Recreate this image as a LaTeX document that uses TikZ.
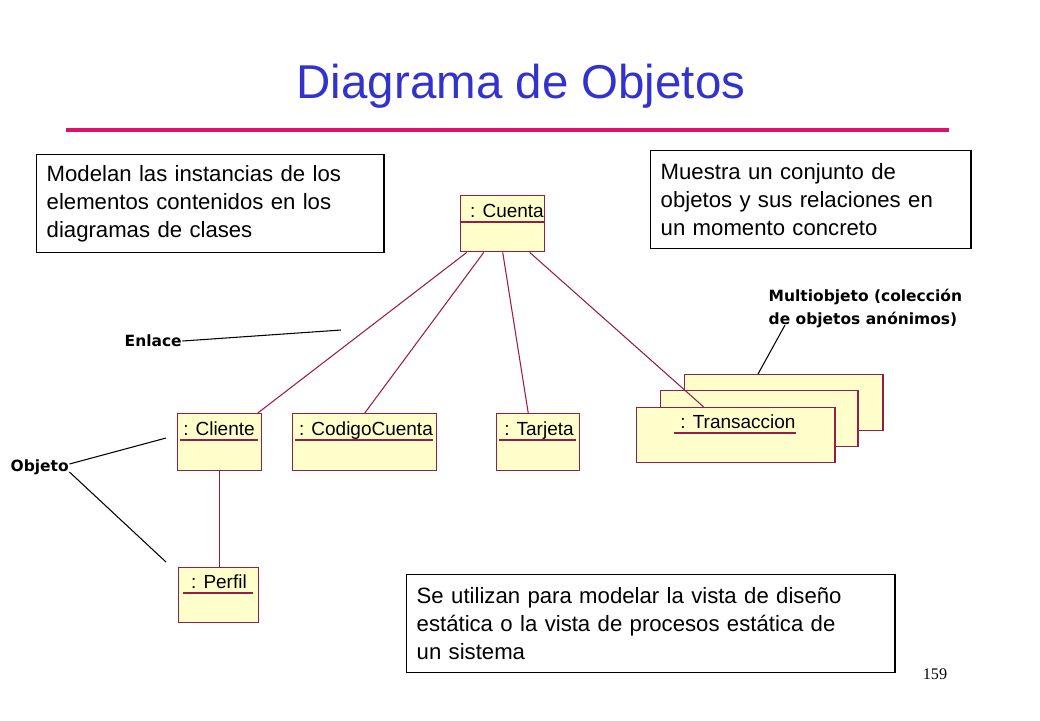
\documentclass[tikz,border=0pt]{standalone}
\usepackage{fontspec}
\setmainfont{Liberation Sans}
\newfontfamily\labfont{DejaVu Sans}
\newfontfamily\numfont{Liberation Serif}
\definecolor{umlline}{RGB}{150,30,70}
\definecolor{umlfill}{RGB}{255,255,204}
\definecolor{titleblue}{RGB}{51,51,204}
\definecolor{rulepink}{RGB}{224,16,106}
\tikzset{
  obj/.style={draw=umlline, fill=umlfill, anchor=north west, inner sep=0pt},
  link/.style={draw=umlline, line width=0.3pt},
  note/.style={draw, anchor=north west, align=left, inner xsep=0.1cm, inner ysep=0pt,
    text width=#1, minimum height=0.98cm, font=\fontsize{6.3}{8}\selectfont},
  objtext/.style={anchor=base, font=\fontsize{5.4}{6}\selectfont},
  tag/.style={font=\labfont\bfseries\fontsize{4.4}{6.6}\selectfont, align=left, inner sep=0pt}
}
\begin{document}
\begin{tikzpicture}[x=0.01cm, y=-0.01cm]
    \useasboundingbox (0,0) rectangle (1040,720);

    % titulo
    \node (title) at (521,86) {\color{titleblue}\fontsize{13.5}{15}\selectfont Diagrama de Objetos};
    \draw[rulepink, line width=1.1pt] (66,130) -- (949,130);

    % notas
    \node[note=3.27cm] (n1) at (36,154) {Modelan las instancias de los\\elementos contenidos en los\\diagramas de clases};
    \node[note=3.0cm] (n2) at (650,150) {Muestra un conjunto de\\objetos y sus relaciones en\\un momento concreto};
    \node[note=4.68cm] (n3) at (406,574) {Se utilizan para modelar la vista de diseño\\estática o la vista de procesos estática de\\un sistema};

    % objetos
    \node[obj, minimum width=0.84cm, minimum height=0.56cm] (cuenta) at (460,195) {};
    \node[objtext] at (507,217) {: Cuenta};
    \draw[umlline, line width=0.3pt] (cuenta.west |- 0,222) -- (cuenta.east |- 0,222);

    \node[obj, minimum width=0.84cm, minimum height=0.57cm] (cliente) at (177,413) {};
    \node[objtext] at (219,435) {: Cliente};
    \draw[umlline, line width=0.3pt] (180,440) -- (258,440);

    \node[obj, minimum width=1.44cm, minimum height=0.57cm] (codigo) at (292,413) {};
    \node[objtext] at (366,435) {: CodigoCuenta};
    \draw[umlline, line width=0.3pt] (295,440) -- (433,440);

    \node[obj, minimum width=0.83cm, minimum height=0.57cm] (tarjeta) at (496,413) {};
    \node[objtext] at (539,435) {: Tarjeta};
    \draw[umlline, line width=0.3pt] (499,440) -- (576,440);

    \node[obj, minimum width=0.80cm, minimum height=0.55cm] (perfil) at (178,567) {};
    \node[objtext] at (219,588) {: Perfil};
    \draw[umlline, line width=0.3pt] (183,593) -- (253,593);

    \node[obj, minimum width=1.98cm, minimum height=0.56cm] (trans3) at (684,374) {};
    \node[obj, minimum width=1.97cm, minimum height=0.56cm] (trans2) at (660,390) {};
    \node[obj, minimum width=1.98cm, minimum height=0.55cm] (trans1) at (636,407) {};
    \node[objtext] at (738,428) {: Transaccion};
    \draw[umlline, line width=0.3pt] (674,433) -- (796,433);

    % enlaces
    \draw[link] ([xshift=-0.36cm]cuenta.south) -- ([xshift=0.38cm]cliente.north);
    \draw[link] ([xshift=-0.19cm]cuenta.south) -- (codigo.north);
    \draw[link] ([xshift=0.0cm]cuenta.south) -- ([xshift=-0.1cm]tarjeta.north);
    \draw[link] ([xshift=0.27cm]cuenta.south) -- ([xshift=-0.32cm]trans1.north);
    \draw[link] (cliente.south) -- (perfil.north -| cliente.south);

    % etiquetas
    \node[tag, anchor=west] (enlace) at (124,341) {Enlace};
    \node[tag, anchor=west] (objeto) at (10,467) {Objeto};
    \node[tag, anchor=north west] (multi) at (768,288) {Multiobjeto (colección\\de objetos anónimos)};
    \coordinate (enl) at (341,330);
    \coordinate (ob1) at (166,438);
    \coordinate (ob2) at (166,562);
    \coordinate (mob) at (758,374);
    \draw[line width=0.3pt] (enlace.east) -- (enl);
    \draw[line width=0.3pt] ([yshift=0.03cm]objeto.east) -- (ob1);
    \draw[line width=0.3pt] ([yshift=-0.05cm]objeto.east) -- (ob2);
    \draw[line width=0.3pt] (785,325) -- (mob);

    \node (page) at (935,674) {\numfont\fontsize{4.6}{6}\selectfont 159};
\end{tikzpicture}
\end{document}
